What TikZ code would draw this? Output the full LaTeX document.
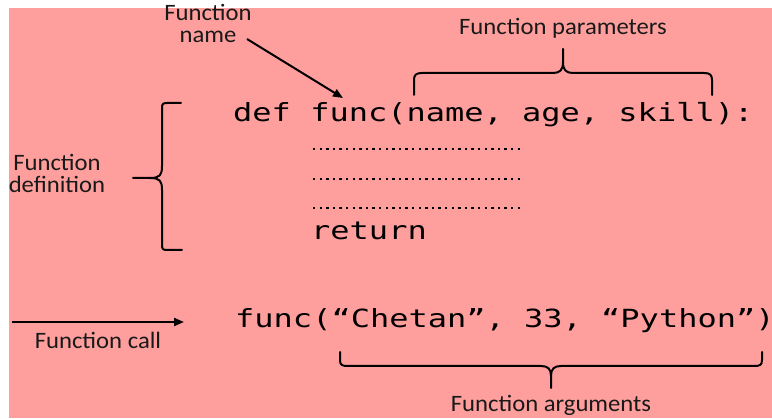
\documentclass[tikz,border=0pt]{standalone}
\usepackage{fontspec}
\usetikzlibrary{arrows.meta}
\newfontfamily\labfont[FakeStretch=1.05]{Carlito}
\newfontfamily\codefont[FakeStretch=1.28]{DejaVu Sans Mono}
\definecolor{bgpink}{RGB}{255,159,157}
\begin{document}
\begin{tikzpicture}[x=1pt,y=-1pt,
  lab/.style={font=\labfont\fontsize{23.5}{22}\selectfont, inner sep=0pt, align=center, text=black!90},
  code/.style={font=\codefont\fontsize{25}{30}\selectfont, inner sep=0pt, anchor=base west},
  brace/.style={line width=2pt, line cap=round, line join=round},
  arr/.style={line width=2pt, -{Triangle[length=10pt,width=8pt]}},
  dots/.style={line width=2.4pt, dash pattern=on 2.4pt off 4.2pt}]
\useasboundingbox (0,0) rectangle (772,419);
\fill[white] (0,0) rectangle (772,419);
\fill[bgpink] (9,8) rectangle (772,418.5);

% code
\node[code] (def) at (233,122) {def func(name, age, skill):};
\node[code] (ret) at (311,240) {return};
\node[code] (call) at (235,328) {func(“Chetan”, 33, “Python”)};

% dotted body lines
\coordinate (d1s) at (313,149); \coordinate (d1e) at (524,149);
\coordinate (d2s) at (313,179); \coordinate (d2e) at (524,179);
\coordinate (d3s) at (313,208); \coordinate (d3e) at (524,208);
\draw[dots] (d1s) -- (d1e);
\draw[dots] (d2s) -- (d2e);
\draw[dots] (d3s) -- (d3e);

% labels (base anchor = baseline of the last line)
\node[lab, anchor=base] (fname) at (208,43) {Function\\name};
\node[lab, anchor=base] (fparam) at (563,35) {Function parameters};
\node[lab, anchor=base] (fdef) at (57,193) {Function\\definition};
\node[lab, anchor=base] (fcall) at (98,349) {Function call};
\node[lab, anchor=base] (fargs) at (551,412) {Function arguments};

% arrows
\coordinate (nameA) at (247,39); \coordinate (nameB) at (343,98);
\draw[arr] (nameA) -- (nameB);
\coordinate (callA) at (12,322); \coordinate (callB) at (184,322);
\draw[arr] (callA) -- (callB);

% definition brace
\draw[brace] (181,103) -- (167,103) .. controls (163,103) and (162,104) .. (162,108)
  -- (162,166) .. controls (162,175) and (160,178) .. (150,178) -- (133,178);
\draw[brace] (182,250) -- (167,250) .. controls (163,250) and (162,249) .. (162,245)
  -- (162,190) .. controls (162,181) and (160,178) .. (150,178);

% parameters brace
\draw[brace] (414,95) -- (414,80) .. controls (414,75) and (416,73) .. (422,73)
  -- (553,73) .. controls (560,73) and (563,70) .. (563,62) -- (563,49);
\draw[brace] (712,95) -- (712,80) .. controls (712,75) and (710,73) .. (704,73)
  -- (573,73) .. controls (566,73) and (563,70) .. (563,62);

% arguments brace
\draw[brace] (340,352) -- (340,360) .. controls (340,365) and (342,366) .. (348,366)
  -- (541,366) .. controls (548,366) and (551,369) .. (551,376) -- (551,388);
\draw[brace] (762,352) -- (762,360) .. controls (762,365) and (760,366) .. (754,366)
  -- (561,366) .. controls (554,366) and (551,369) .. (551,376);
\end{tikzpicture}
\end{document}
